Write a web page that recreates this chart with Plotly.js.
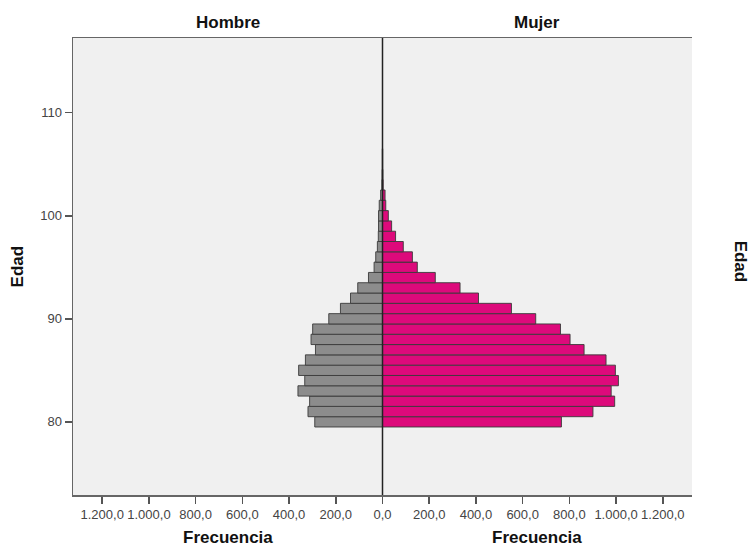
<!DOCTYPE html>
<html>
<head>
<meta charset="utf-8">
<script src="https://cdn.plot.ly/plotly-3.0.1.min.js"></script>
<style>html,body{margin:0;padding:0;background:#fff;}#chart{width:751px;height:550px;}</style>
</head>
<body>
<div id="chart"></div>
<script>
// Data
const ages = [80,81,82,83,84,85,86,87,88,89,90,91,92,93,94,95,96,97,98,99,100,101,102,103,104,105,106];
const hombre = [290,319,312,362,333,359,330,287,306,299,230,180,137,106,60,36,29,22,18,17,17,14,8,3,2,1,1];
const mujer  = [766,901,994,979,1010,997,957,863,803,762,656,552,411,332,226,149,128,89,56,39,25,14,11,3,2,1,1];
const leftTickVals = [0,200,400,600,800,1000,1200];
const leftTickText = ['0,0','200,0','400,0','600,0','800,0','1.000,0','1.200,0'];
const rightTickVals = [200,400,600,800,1000,1200];
const rightTickText = ['200,0','400,0','600,0','800,0','1.000,0','1.200,0'];
const ageTicks = [80,90,100,110];
const panelTitles = ['Hombre','Mujer'];
const xTitle = 'Frecuencia';
const yTitle = 'Edad';

const FONT = 'Liberation Sans, Arial, sans-serif';
const traces = [
  {type:'bar', orientation:'h', y:ages, x:hombre, width:1, xaxis:'x', yaxis:'y',
   marker:{color:'#8c8c8c', line:{color:'#3a3a3a', width:0.9}}, hoverinfo:'x+y'},
  {type:'bar', orientation:'h', y:ages, x:mujer, width:1, xaxis:'x2', yaxis:'y',
   marker:{color:'#dd0a7b', line:{color:'#3a3a3a', width:0.9}}, hoverinfo:'x+y'}
];
const yr = [72.9, 117.25];
const xr = 1325;
const tickFont = {family:FONT, size:13, color:'#444'};
const titleFont = {family:FONT, size:17, color:'#111'};
const layout = {
  width:751, height:550,
  margin:{l:73, r:59, t:38, b:55},
  paper_bgcolor:'#ffffff', plot_bgcolor:'#f0f0f0',
  showlegend:false, bargap:0,
  xaxis:{domain:[0,0.5], range:[xr,0], autorange:false, showgrid:false, zeroline:false,
    tickmode:'array', tickvals:leftTickVals, ticktext:leftTickText, ticks:'outside', ticklen:7,
    tickwidth:1.5, tickcolor:'#555', tickfont:tickFont, showline:true, linecolor:'#666', linewidth:1.5, mirror:true, fixedrange:true},
  xaxis2:{domain:[0.5,1], range:[0,xr], autorange:false, showgrid:false, zeroline:false, anchor:'y',
    tickmode:'array', tickvals:rightTickVals, ticktext:rightTickText, ticks:'outside', ticklen:7,
    tickwidth:1.5, tickcolor:'#555', tickfont:tickFont, showline:true, linecolor:'#666', linewidth:1.5, mirror:true, fixedrange:true},
  yaxis:{range:yr, autorange:false, showgrid:false, zeroline:false, anchor:'x',
    tickmode:'array', tickvals:ageTicks, ticks:'outside', ticklen:7, tickwidth:1.5, tickcolor:'#555',
    tickfont:tickFont, showline:true, linecolor:'#666', linewidth:1.5},
  yaxis2:{range:yr, autorange:false, overlaying:'y', side:'right', anchor:'x2', showgrid:false, zeroline:false,
    tickmode:'array', tickvals:ageTicks, ticks:'outside', ticklen:7, tickwidth:1.5, tickcolor:'#555',
    tickfont:tickFont, showline:true, linecolor:'#666', linewidth:1.5},
  shapes:[
    {type:'line', xref:'paper', yref:'paper', x0:0.5, x1:0.5, y0:0, y1:1, line:{color:'#222', width:1.5}}
  ],
  annotations:[
    {text:'<b>'+panelTitles[0]+'</b>', xref:'paper', yref:'paper', x:0.25, y:1.035, showarrow:false, xanchor:'center', yanchor:'middle', font:titleFont},
    {text:'<b>'+panelTitles[1]+'</b>', xref:'paper', yref:'paper', x:0.75, y:1.035, showarrow:false, xanchor:'center', yanchor:'middle', font:titleFont},
    {text:'<b>'+xTitle+'</b>', xref:'paper', yref:'paper', x:0.25, y:-0.094, showarrow:false, xanchor:'center', yanchor:'middle', font:titleFont},
    {text:'<b>'+xTitle+'</b>', xref:'paper', yref:'paper', x:0.75, y:-0.094, showarrow:false, xanchor:'center', yanchor:'middle', font:titleFont},
    {text:'<b>'+yTitle+'</b>', xref:'paper', yref:'paper', x:-0.089, y:0.5, showarrow:false, textangle:-90, xanchor:'center', yanchor:'middle', font:titleFont},
    {text:'<b>'+yTitle+'</b>', xref:'paper', yref:'paper', x:1.078, y:0.51, showarrow:false, textangle:90, xanchor:'center', yanchor:'middle', font:titleFont}
  ]
};
Plotly.newPlot('chart', traces, layout, {displayModeBar:false, staticPlot:true});
</script>
</body>
</html>
